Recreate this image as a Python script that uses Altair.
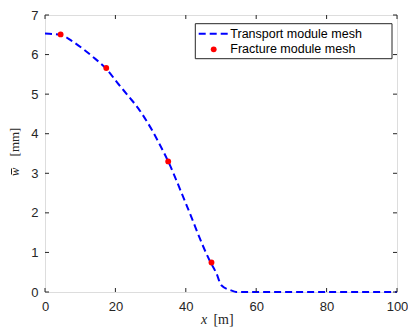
import altair as alt
import pandas as pd

# Transport module mesh (dashed line)
line_x = [0, 4.4, 7.5, 10.7, 13.5, 17.4, 20.9, 23.7, 26.5, 28.3, 30.6, 32.1, 35.0, 40.0, 46.8, 48.7, 50.1, 52.9, 54.3, 60, 70, 80, 90, 100]
line_y = [6.53, 6.50, 6.35, 6.15, 5.95, 5.64, 5.25, 4.95, 4.64, 4.40, 4.06, 3.81, 3.30, 2.24, 0.79, 0.47, 0.17, 0.04, 0.0, 0.0, 0.0, 0.0, 0.0, 0.0]

# Fracture module mesh (red dots)
pt_x = [4.44, 17.4, 35.0, 47.3]
pt_y = [6.51, 5.66, 3.30, 0.745]

x_ticks = [0, 20, 40, 60, 80, 100]
y_ticks = [0, 1, 2, 3, 4, 5, 6, 7]
series_names = ["Transport module mesh", "Fracture module mesh"]
x_title = ["x", "[m]"]
y_title = ["w", "[mm]"]

W, H = 352, 277
AX = "#262626"
SANS = "Liberation Sans"
SERIF = "Liberation Serif"

line_df = pd.DataFrame({"x": line_x, "y": line_y})
pt_df = pd.DataFrame({"x": pt_x, "y": pt_y})
xt_df = pd.DataFrame({"x": x_ticks})
yt_df = pd.DataFrame({"y": y_ticks})
one = pd.DataFrame({"a": [0]})

x_enc = alt.X("x:Q", scale=alt.Scale(domain=[0, 100], nice=False, zero=False),
              axis=alt.Axis(values=x_ticks, title=None, ticks=False, domain=False, grid=False,
                            labelFont=SANS, labelFontSize=13, labelColor=AX, labelPadding=8,
                            labelFlush=False))
y_enc = alt.Y("y:Q", scale=alt.Scale(domain=[0, 7], nice=False, zero=False),
              axis=alt.Axis(values=y_ticks, title=None, ticks=False, domain=False, grid=False,
                            labelFont=SANS, labelFontSize=13, labelColor=AX, labelPadding=7,
                            labelFlush=False))

line = alt.Chart(line_df).mark_line(color="#0000ff", strokeDash=[7, 4], strokeWidth=2,
                                    interpolate="monotone").encode(x=x_enc, y=y_enc)
pts = alt.Chart(pt_df).mark_circle(color="#ff0000", size=34, opacity=1).encode(x=x_enc, y=y_enc)

tk = 4
tick_b = alt.Chart(xt_df).mark_rule(color=AX, strokeWidth=1).encode(x=x_enc, y=alt.value(H), y2=alt.value(H - tk))
tick_t = alt.Chart(xt_df).mark_rule(color=AX, strokeWidth=1).encode(x=x_enc, y=alt.value(0), y2=alt.value(tk))
tick_l = alt.Chart(yt_df).mark_rule(color=AX, strokeWidth=1).encode(y=y_enc, x=alt.value(0), x2=alt.value(tk))
tick_r = alt.Chart(yt_df).mark_rule(color=AX, strokeWidth=1).encode(y=y_enc, x=alt.value(W), x2=alt.value(W - tk))

# legend box (anchored to the right edge of the plot)
LR = W - 5
leg_box = alt.Chart(one).mark_rect(fill="white", stroke=AX, strokeWidth=1).encode(
    x=alt.value(LR - 196.7), x2=alt.value(LR), y=alt.value(8.7), y2=alt.value(43.7))
leg_line = alt.Chart(one).mark_rule(color="#0000ff", strokeDash=[7, 4], strokeWidth=2).encode(
    x=alt.value(LR - 193.3), x2=alt.value(LR - 164.3), y=alt.value(18.7))
leg_pt = alt.Chart(one).mark_circle(color="#ff0000", size=34, opacity=1).encode(
    x=alt.value(LR - 178.3), y=alt.value(34.3))
leg_t1 = alt.Chart(one).mark_text(align="left", baseline="middle", font=SANS, fontSize=12.5, color="black").encode(
    x=alt.value(LR - 161.7), y=alt.value(18.7), text=alt.value(series_names[0]))
leg_t2 = alt.Chart(one).mark_text(align="left", baseline="middle", font=SANS, fontSize=12.5, color="black").encode(
    x=alt.value(LR - 161.7), y=alt.value(34.3), text=alt.value(series_names[1]))

# axis titles
xt1 = alt.Chart(one).mark_text(align="center", baseline="alphabetic", font=SERIF, fontSize=14,
                               fontStyle="italic", color=AX).encode(
    x=alt.value(159), y=alt.value(309), text=alt.value(x_title[0]))
xt2 = alt.Chart(one).mark_text(align="center", baseline="alphabetic", font=SERIF, fontSize=14, color=AX).encode(
    x=alt.value(178.5), y=alt.value(309), text=alt.value(x_title[1]))
yt1 = alt.Chart(one).mark_text(align="center", baseline="alphabetic", font=SERIF, fontSize=13,
                               fontStyle="italic", angle=270, color=AX).encode(
    x=alt.value(-26), y=alt.value(157), text=alt.value(y_title[0]))
yt_bar = alt.Chart(one).mark_rule(color=AX, strokeWidth=1).encode(
    x=alt.value(-33.5), y=alt.value(153.5), y2=alt.value(159.5))
yt2 = alt.Chart(one).mark_text(align="center", baseline="alphabetic", font=SERIF, fontSize=13,
                               angle=270, color=AX).encode(
    x=alt.value(-26), y=alt.value(127), text=alt.value(y_title[1]))

chart = alt.layer(
    line, pts, tick_b, tick_t, tick_l, tick_r,
    leg_box, leg_line, leg_pt, leg_t1, leg_t2,
    xt1, xt2, yt1, yt_bar, yt2,
).properties(
    width=W, height=H,
    padding={"left": 37, "top": 7, "right": 11, "bottom": 35},
    autosize=alt.AutoSizeParams(type="none"),
).configure_view(stroke=AX, strokeWidth=1).configure(background="white")

chart.save("out.html", embed_options={"renderer": "svg", "actions": False})
